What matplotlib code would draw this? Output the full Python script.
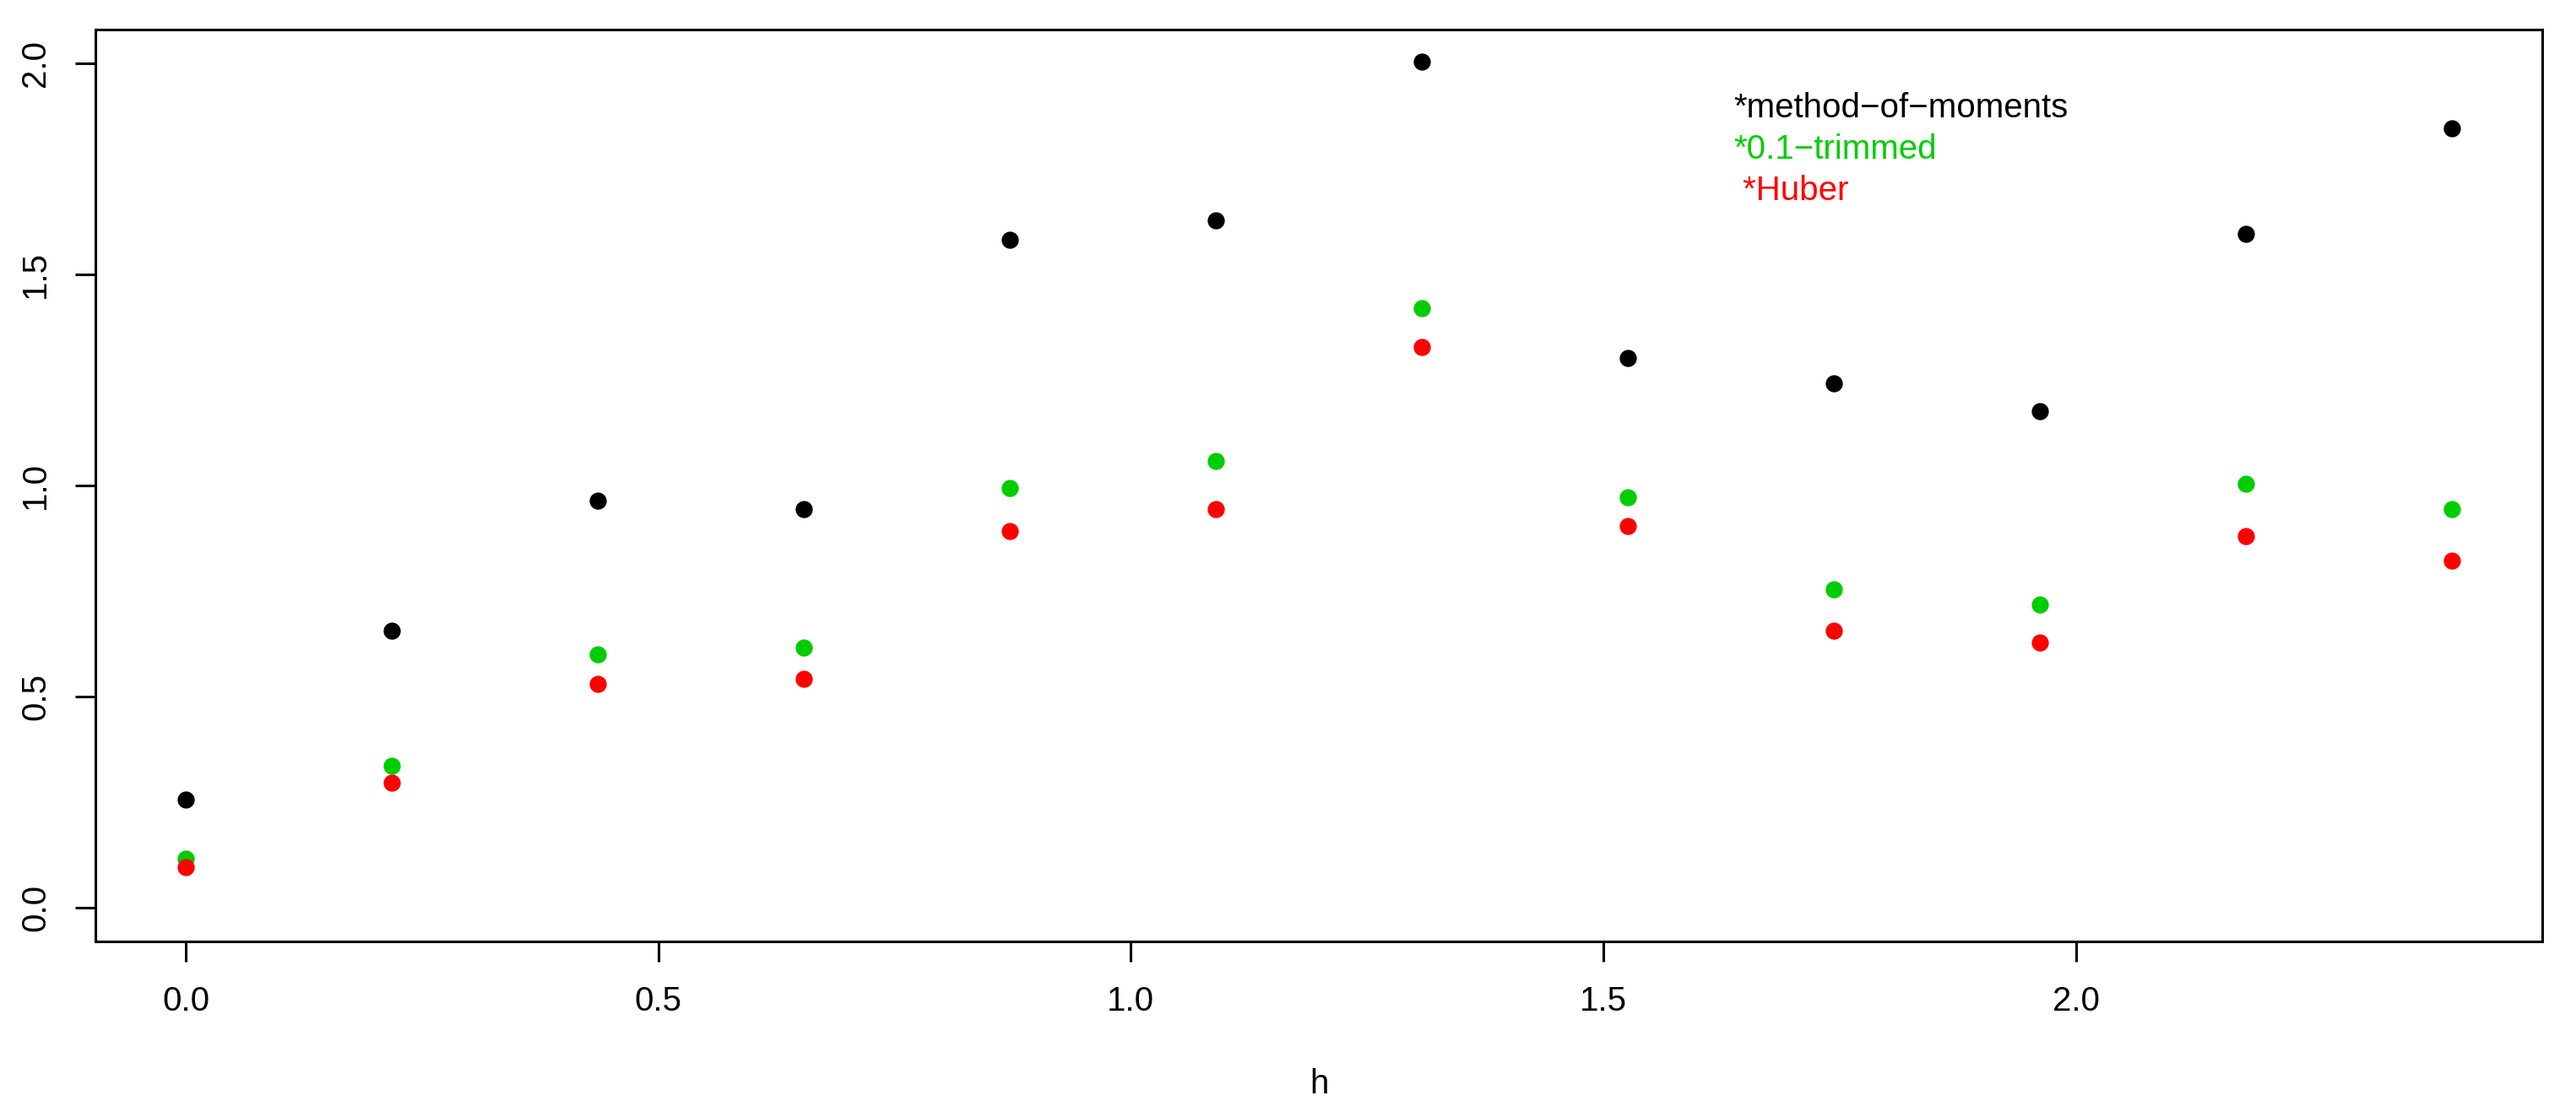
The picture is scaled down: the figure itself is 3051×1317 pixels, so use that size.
import numpy as np
import matplotlib
matplotlib.use("Agg")
import matplotlib.pyplot as plt

plt.rcParams['font.family'] = ['Liberation Sans', 'DejaVu Sans']

# lag distances
h = [0.0, 0.218, 0.436, 0.654, 0.872, 1.090, 1.308, 1.526, 1.744, 1.962, 2.180, 2.398]

# semivariogram estimates
mom = [0.255, 0.655, 0.965, 0.945, 1.583, 1.629, 2.004, 1.302, 1.243, 1.176, 1.597, 1.847]
trimmed = [0.115, 0.335, 0.600, 0.615, 0.994, 1.059, 1.421, 0.972, 0.754, 0.717, 1.004, 0.945]
huber = [0.095, 0.295, 0.530, 0.542, 0.892, 0.945, 1.329, 0.904, 0.656, 0.627, 0.880, 0.822]

labels = ["*method\u2212of\u2212moments", "*0.1\u2212trimmed", " *Huber"]
colors = ["black", "#00CD00", "#FF0000"]

fig = plt.figure(figsize=(15.255, 6.585), dpi=200)
ax = fig.add_axes([0.037, 0.1534, 0.950, 0.8200])

for vals, c in zip([mom, trimmed, huber], colors):
    ax.plot(h, vals, 'o', color=c, markersize=7.3, markeredgewidth=0)

ax.set_xlim(-0.0959, 2.4939)
ax.set_ylim(-0.08, 2.08)
ax.set_xticks([0.0, 0.5, 1.0, 1.5, 2.0])
ax.set_xticklabels(["0.0", "0.5", "1.0", "1.5", "2.0"])
ax.set_yticks([0.0, 0.5, 1.0, 1.5, 2.0])
ax.set_yticklabels(["0.0", "0.5", "1.0", "1.5", "2.0"], rotation=90, va='center')
ax.tick_params(direction='out', length=8.6, width=1.1, labelsize=14.5, pad=10)
for s in ax.spines.values():
    s.set_linewidth(1.1)

# legend as plain text lines
ly = [1.895, 1.797, 1.699]
for lab, c, yy in zip(labels, colors, ly):
    ax.text(1.638, yy, lab, color=c, fontsize=14.5, ha='left', va='center')

fig.text(0.512, 0.025, "h", fontsize=14.5, ha='center', va='center')

fig.savefig("out.png", dpi=200)
